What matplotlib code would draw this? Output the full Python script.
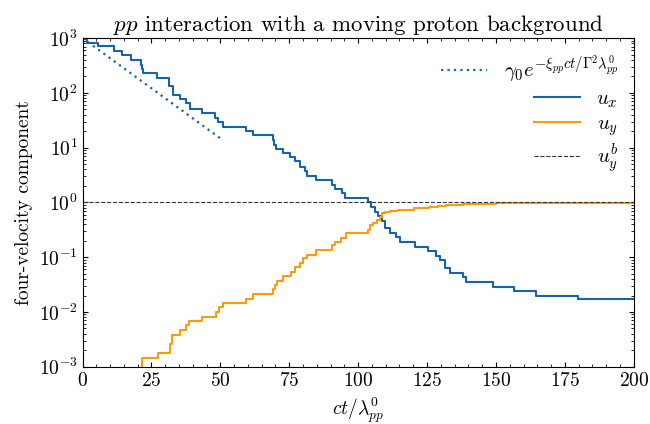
import numpy as np
import matplotlib
matplotlib.use("Agg")
import matplotlib.pyplot as plt

plt.rcParams.update({
    "font.family": "serif",
    "font.serif": ["cmr10"],
    "mathtext.fontset": "cm",
    "axes.formatter.use_mathtext": True,
    "font.size": 14,
    "xtick.direction": "in",
    "ytick.direction": "in",
    "xtick.top": True,
    "ytick.right": True,
    "xtick.minor.visible": True,
    "ytick.minor.visible": True,
})

# analytic decay reference: gamma_0 * exp(-xi ct / Gamma^2 lambda), end points
decay_t = [0.0, 50.0]
decay_u = [1000.0, 14.8]

# u_x step curve (time of each jump, value after it)
ux_t = [0.0, 1.7, 5.6, 11.5, 14.2, 17.4, 21.2, 21.6, 22.0, 26.9, 31.3, 32.9,
        35.3, 37.4, 39.0, 43.2, 48.0, 49.2, 51.0, 59.3, 61.7, 69.1, 69.6,
        70.2, 72.7, 75.4, 77.2, 78.9, 80.7, 81.5, 84.7, 90.4, 91.5, 94.0,
        95.4, 103.6, 104.5, 106.0, 107.3, 108.5, 109.7, 111.7, 113.9, 115.1,
        120.6, 125.4, 128.4, 129.6, 131.4, 133.3, 138.1, 139.3, 149.0, 156.6,
        164.7, 179.8, 200.0]
ux_v = [980, 830, 710, 575, 490, 400, 330, 275, 235, 190, 132, 92,
        77, 65, 50, 43, 35.5, 30, 24.3, 20.2, 16.8, 13.8, 11.2,
        9.5, 7.9, 6.7, 5.6, 4.5, 3.76, 3.05, 2.57, 2.09, 1.77, 1.47,
        1.22, 1.0, 0.84, 0.68, 0.57, 0.45, 0.34, 0.275, 0.231, 0.192,
        0.155, 0.130, 0.105, 0.089, 0.063, 0.051, 0.043, 0.0357, 0.0288, 0.0242,
        0.020, 0.017, 0.017]

# u_y step curve
uy_t = [21.0, 21.6, 27.2, 31.6, 32.6, 35.3, 37.5, 38.7, 43.2, 48.3, 49.4,
        50.8, 59.3, 62.0, 69.2, 69.8, 70.4, 72.6, 75.5, 77.1, 78.9, 80.1,
        81.3, 84.6, 90.6, 91.5, 93.8, 95.5, 103.6, 104.3, 105.5, 106.7,
        107.9, 108.8, 109.6, 111.5, 114.3, 120.3, 125.7, 129.0, 132.0,
        138.0, 150.0, 170.0, 200.0]
uy_v = [6e-4, 1.45e-3, 1.80e-3, 2.63e-3, 3.8e-3, 4.7e-3, 5.7e-3, 6.9e-3,
        8.2e-3, 9.8e-3, 0.0121, 0.0146, 0.0174, 0.0211, 0.0263, 0.0309,
        0.0372, 0.0447, 0.0537, 0.0653, 0.0794, 0.0955, 0.112, 0.135, 0.167,
        0.192, 0.226, 0.274, 0.320, 0.380, 0.427, 0.479, 0.55, 0.63, 0.66,
        0.70, 0.74, 0.785, 0.83, 0.87, 0.91, 0.944, 0.96, 0.97, 0.97]

# background flow four-velocity
uyb = 1.0

blue = "#1662ab"
orange = "#ff9a0a"

fig = plt.figure(figsize=(6.5, 4.24), dpi=100)
ax = fig.add_axes([0.127, 0.135, 0.848, 0.775])

ax.plot(decay_t, decay_u, ls=(0, (1, 1.9)), lw=1.6, color=blue,
        label=r"$\gamma_0 e^{-\xi_{pp} ct/\Gamma^2 \lambda_{pp}^0}$")
ax.step(ux_t, ux_v, where="post", lw=1.5, color=blue, label=r"$u_x$")
ax.step(uy_t, uy_v, where="post", lw=1.5, color=orange, label=r"$u_y$")
ax.axhline(uyb, ls="--", lw=0.8, color="#333333", label=r"$u_y^b$")

ax.set_yscale("log")
ax.set_xlim(0, 200)
ax.set_ylim(1e-3, 1e3)
ax.set_xticks([0, 25, 50, 75, 100, 125, 150, 175, 200])
ax.set_xlabel(r"$ct/\lambda_{pp}^0$")
ax.set_ylabel("four-velocity component")
ax.set_title(r"$pp$ interaction with a moving proton background",
             fontsize=16.5, pad=5)

leg = ax.legend(loc="upper right", frameon=False, handlelength=2.2,
                fontsize=15, labelspacing=0.22, borderaxespad=0.35)
for col in leg._legend_handle_box.get_children():
    col.align = "right"

fig.savefig("out.png", dpi=100)
